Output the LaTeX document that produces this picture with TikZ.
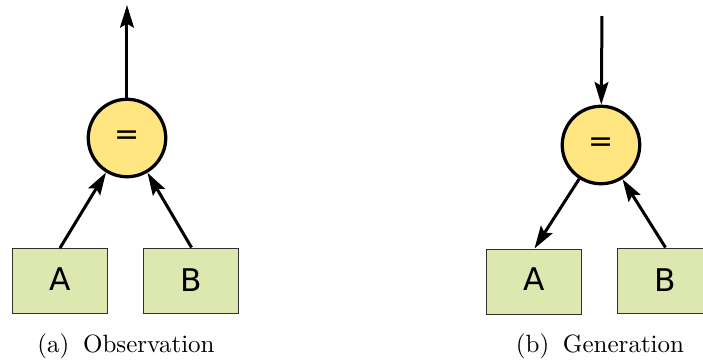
\documentclass[tikz,border=0pt]{standalone}
\usepackage{fontspec}
\newfontfamily\nodefont{DejaVu Sans}
\usetikzlibrary{arrows.meta}
\definecolor{eqfill}{HTML}{FFE680}
\definecolor{boxfill}{HTML}{DDE8B0}
\definecolor{boxline}{HTML}{303030}
\begin{document}
\begin{tikzpicture}[x=0.4pt,y=-0.4pt,
  eqnode/.style={circle,draw=black,line width=1.3pt,fill=eqfill,minimum size=31pt,inner sep=0pt,font=\nodefont\fontsize{12}{14}\selectfont},
  varbox/.style={rectangle,draw=boxline,line width=0.4pt,fill=boxfill,minimum width=38pt,minimum height=26pt,inner sep=0pt,font=\nodefont\fontsize{12.5}{14}\selectfont},
  edge/.style={line width=1.2pt,-{Stealth[length=9pt,width=5.5pt,inset=1.5pt]}},
  caption/.style={font=\fontsize{10}{12}\selectfont}]
\useasboundingbox (0,0) rectangle (703,362);
% (a) Observation
\node[eqnode] (c1) at (127,138) {=};
\coordinate (t1) at (127,5);
\node[varbox] (a1) at (60,281) {\raisebox{1.6pt}{A}};
\node[varbox] (b1) at (191.5,280.5) {\raisebox{-3.6pt}{B}};
\draw[edge] (c1) -- (t1);
\draw[edge] (a1.north) -- (c1);
\draw[edge] (b1.north) -- (c1);
\node[caption] (l1) at (126,346) {(a)\hspace{0.55em}Observation};
% (b) Generation
\node[eqnode] (c2) at (601,145) {=};
\coordinate (t2) at (602,16);
\node[varbox] (a2) at (534.5,281.5) {\raisebox{1.6pt}{A}};
\node[varbox] (b2) at (665.5,280.5) {\raisebox{-3.6pt}{B}};
\draw[edge] (t2) -- (c2);
\draw[edge] (c2) -- (a2.north);
\draw[edge] (b2.north) -- (c2);
\node[caption] (l2) at (600,346) {(b)\hspace{0.55em}Generation};
\end{tikzpicture}
\end{document}
